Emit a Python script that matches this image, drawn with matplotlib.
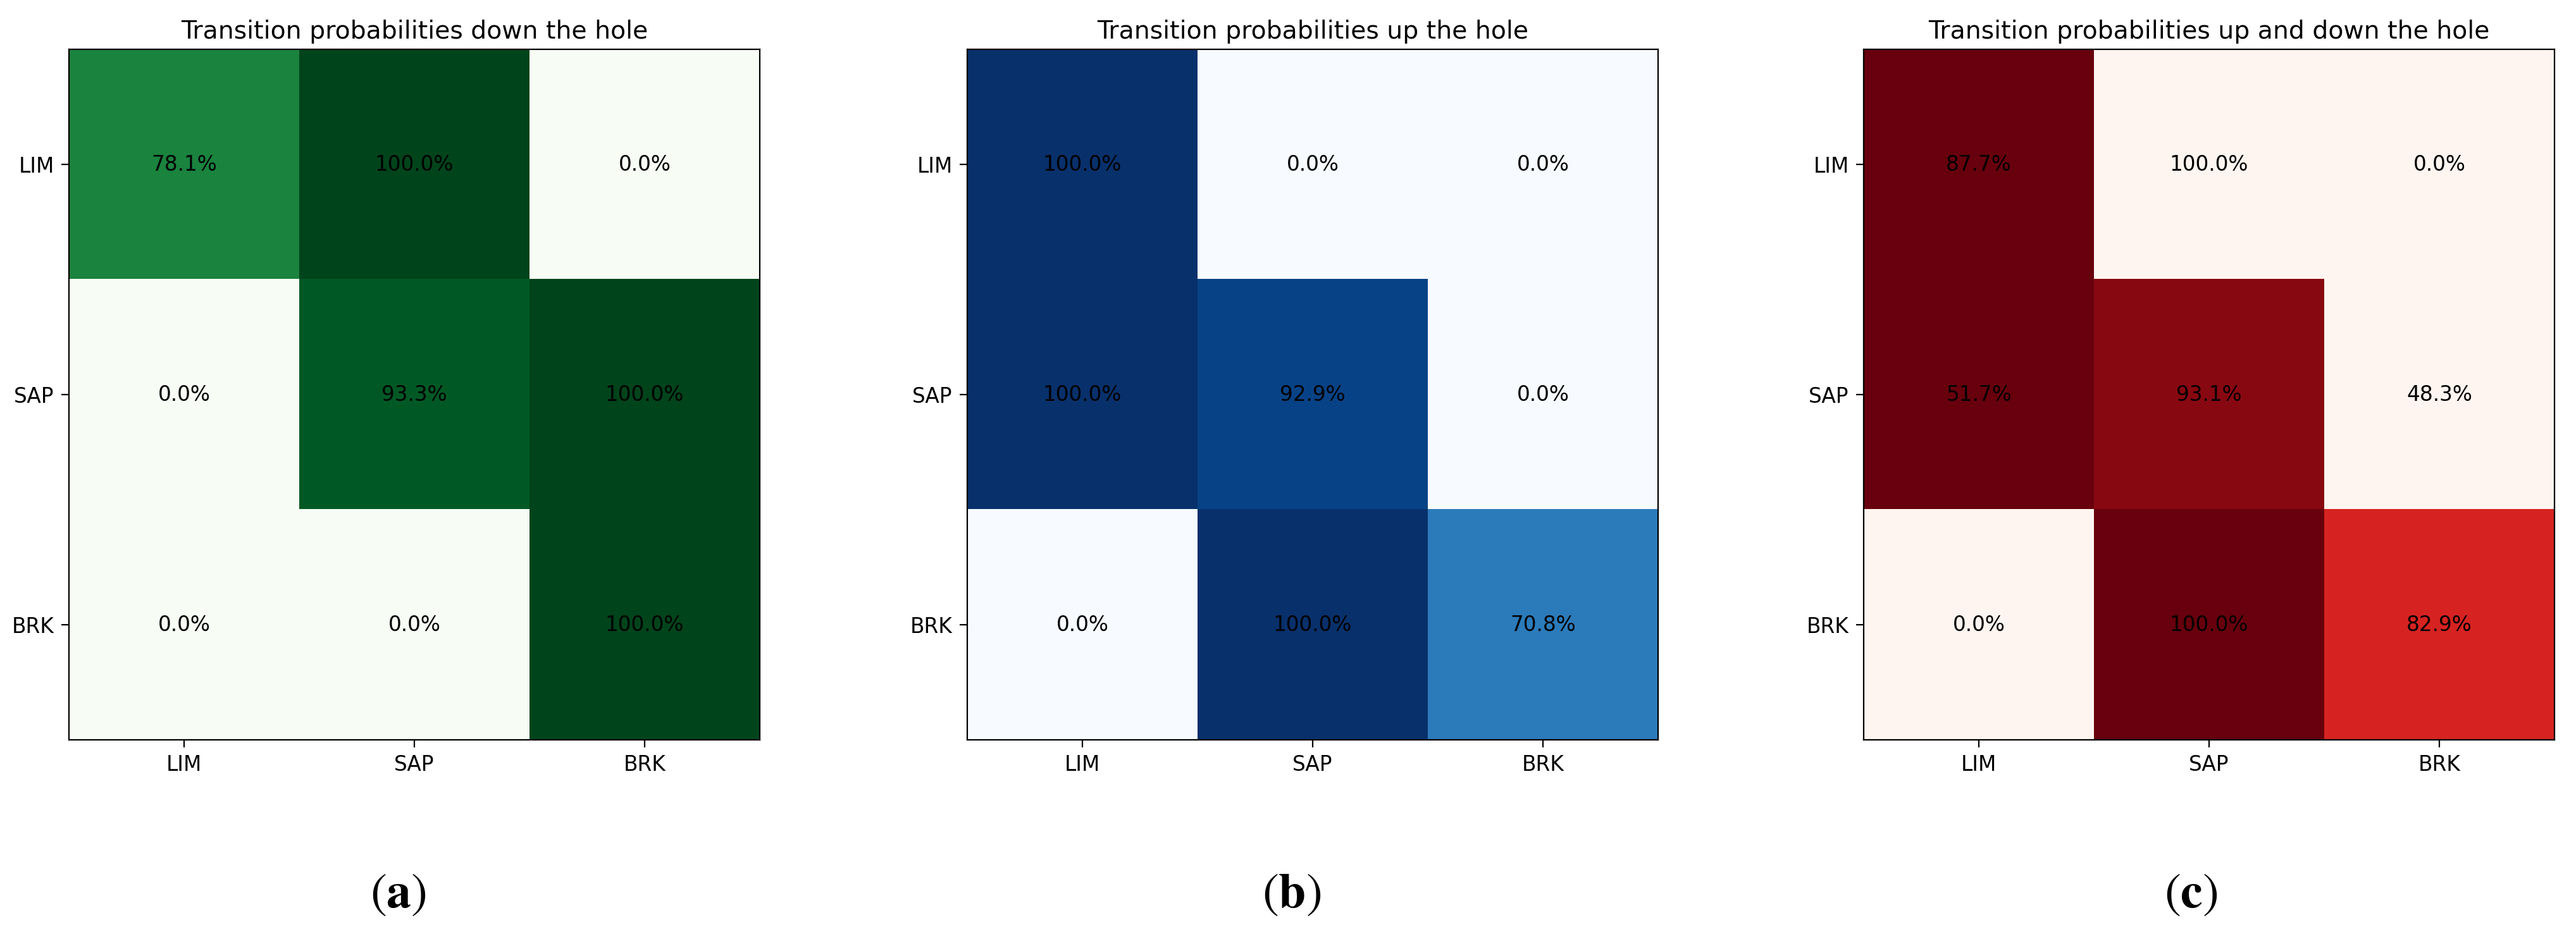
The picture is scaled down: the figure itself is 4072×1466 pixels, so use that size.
import matplotlib
matplotlib.use('Agg')
import matplotlib.pyplot as plt
import numpy as np

plt.rcParams['mathtext.fontset'] = 'stix'

etiquetas = ['LIM', 'SAP', 'BRK']

# probabilidades mostradas (%) por panel
prob_bajada = [[78.1, 100.0, 0.0],
               [0.0, 93.3, 100.0],
               [0.0, 0.0, 100.0]]
prob_subida = [[100.0, 0.0, 0.0],
               [100.0, 92.9, 0.0],
               [0.0, 100.0, 70.8]]
prob_ambos = [[87.7, 100.0, 0.0],
              [51.7, 93.1, 48.3],
              [0.0, 100.0, 82.9]]
# intensidad de color del panel (c), no coincide con el texto
color_ambos = [[1.0, 0.0, 0.0],
               [1.0, 0.93, 0.0],
               [0.0, 1.0, 0.71]]

titulos = ['Transition probabilities down the hole',
           'Transition probabilities up the hole',
           'Transition probabilities up and down the hole']
subtitulos = [r'$(\mathbf{a})$', r'$(\mathbf{b})$', r'$(\mathbf{c})$']

fig = plt.figure(figsize=(4073 / 200, 1466 / 200), dpi=200)

paneles = [
    (prob_bajada, np.array(prob_bajada) / 100, 'Greens', 109),
    (prob_subida, np.array(prob_subida) / 100, 'Blues', 1529),
    (prob_ambos, np.array(color_ambos), 'Reds', 2946),
]
pos_sub = [629, 2042, 3463]

for i, (texto, colores, cmap, x0) in enumerate(paneles):
    ax = fig.add_axes([x0 / 4073, 296 / 1466, 1092 / 4073, 1092 / 1466])
    ax.imshow(colores, cmap=cmap, vmin=0, vmax=1)
    for r in range(3):
        for c in range(3):
            ax.text(c, r, f'{texto[r][c]:.1f}%', ha='center', va='center', color='black', fontsize=11.8)
    ax.set_xticks(range(3))
    ax.set_xticklabels(etiquetas)
    ax.set_yticks(range(3))
    ax.set_yticklabels(etiquetas)
    ax.tick_params(labelsize=11.8, length=4.2, pad=4.2)
    ax.set_title(titulos[i], fontsize=14.2, pad=6)
    fig.text(pos_sub[i] / 4073, 53 / 1466, subtitulos[i], ha='center', va='center', fontsize=28)

fig.savefig('out.png', dpi=200)
